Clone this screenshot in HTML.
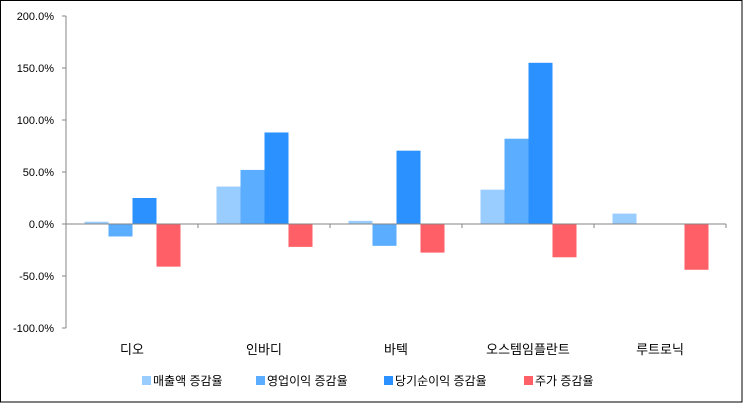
<!DOCTYPE html>
<html><head><meta charset="utf-8"><style>
html,body{margin:0;padding:0;background:#fff}
svg{display:block;font-family:"Liberation Sans","Noto Sans CJK KR","NanumGothic",sans-serif}
</style></head><body>
<svg id="chart" width="743" height="403">
<rect x="0.5" y="0.5" width="741.5" height="401.5" fill="#fff" stroke="#000"/>
<g id="plot"></g>
</svg>
<script>
const categories=["디오","인바디","바텍","오스템임플란트","루트로닉"];
const seriesNames=["매출액 증감율","영업이익 증감율","당기순이익 증감율","주가 증감율"];
const salesGrowth=[2.2,36,3,33,10];
const opGrowth=[-12,52,-21,82,0];
const netGrowth=[25,88,70.5,155,0];
const priceGrowth=[-41,-22,-27.5,-32,-44];
const yTicks=[200,150,100,50,0,-50,-100];
const yTickLabels=["200.0%","150.0%","100.0%","50.0%","0.0%","-50.0%","-100.0%"];
const colors=["#99ccff","#5aadff","#2b91ff","#ff5f66"];
const series=[salesGrowth,opGrowth,netGrowth,priceGrowth];
const NS="http://www.w3.org/2000/svg";
const g=document.getElementById('plot');
const x0=66,x1=726,yTop=16,yBot=328,vMax=200,vMin=-100;
const y=v=>yTop+(vMax-v)/(vMax-vMin)*(yBot-yTop);
const gw=(x1-x0)/categories.length;
const bw=24,off=18.5;
function mk(t,a){const e=document.createElementNS(NS,t);for(const k in a)e.setAttribute(k,a[k]);g.appendChild(e);return e;}
let ax=mk('line',{x1:x0,y1:yTop,x2:x0,y2:yBot,stroke:'#868686'});


yTicks.forEach((v,i)=>{
 let t=mk('line',{x1:x0-4,y1:y(v),x2:x0,y2:y(v),stroke:'#868686'});
 
 
 let l=mk('text',{x:x0-12,y:y(v)+4,'text-anchor':'end','font-size':'11',fill:'#000'});
 l.textContent=yTickLabels[i];
 
 
});
categories.forEach((c,i)=>{
 const gx=x0+i*gw;
 series.forEach((s,j)=>{
  const v=s[i];
  const r=mk('rect',{x:gx+off+j*bw,y:Math.min(y(v),y(0)),width:bw,height:Math.abs(y(v)-y(0)),fill:colors[j]});
  
  
 });
 let l=mk('text',{x:gx+gw/2,y:354,'text-anchor':'middle','font-size':'13',fill:'#000'});
 l.textContent=c;
 
 
});
let xa=mk('line',{x1:x0,y1:y(0),x2:x1,y2:y(0),stroke:'#868686'});


for(let i=0;i<=categories.length;i++){
 let t=mk('line',{x1:x0+i*gw,y1:y(0),x2:x0+i*gw,y2:y(0)+4,stroke:'#868686'});
 
 
}
const legX=[142,256,384,524];
seriesNames.forEach((n,j)=>{
 let r=mk('rect',{x:legX[j],y:376,width:9,height:9,fill:colors[j]});
 
 
 let t=mk('text',{x:legX[j]+11,y:385,'font-size':'12',fill:'#000'});
 t.textContent=n;
 
 
});
</script>
</body></html>
